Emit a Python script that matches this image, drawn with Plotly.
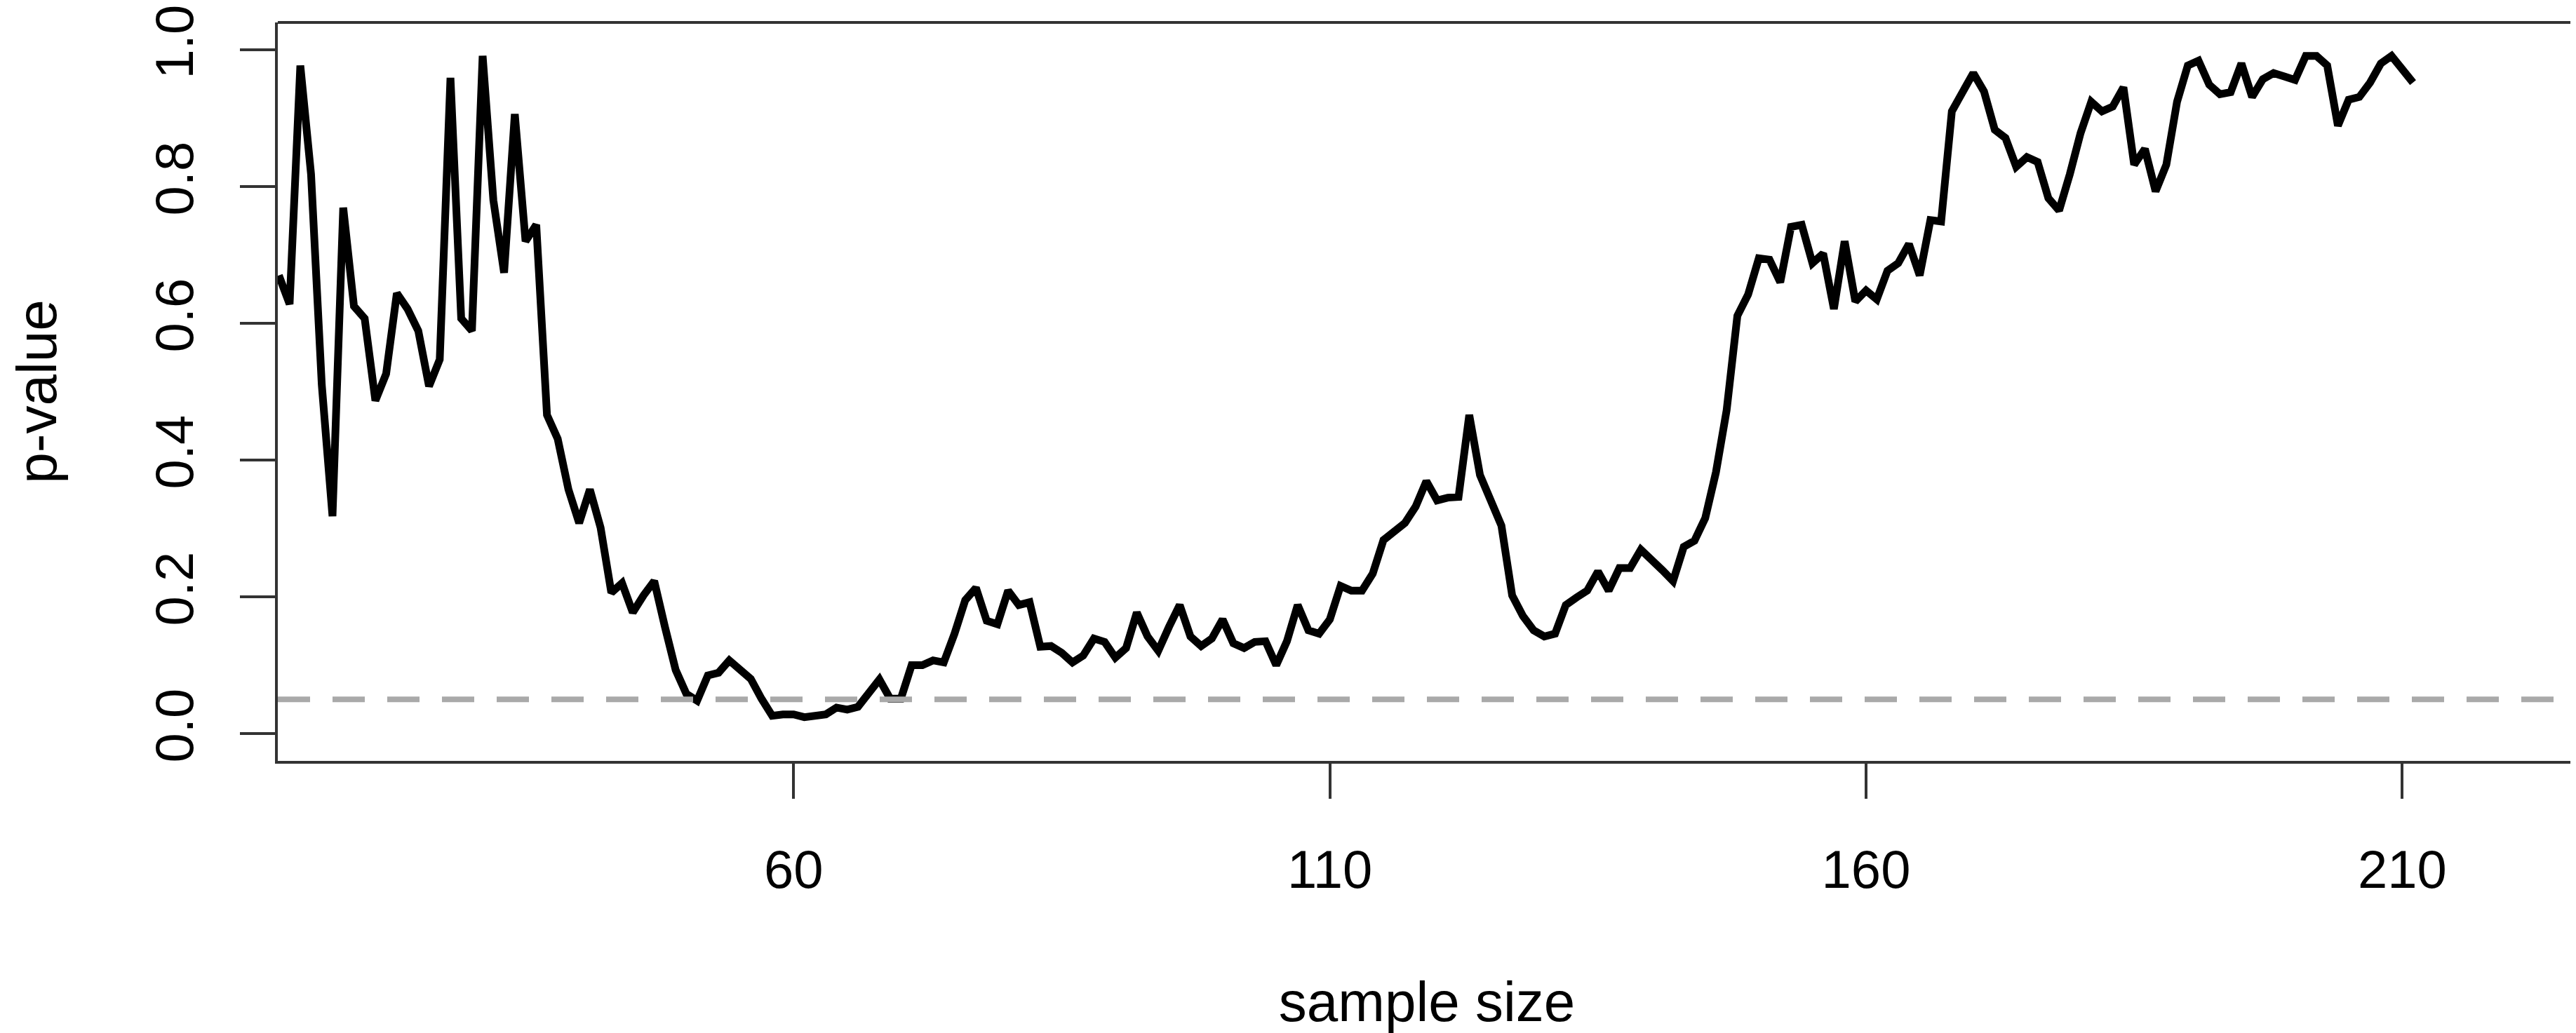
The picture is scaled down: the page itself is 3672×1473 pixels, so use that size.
import plotly.graph_objects as go

sample_size = list(range(12, 212))
p_value = [
    0.670, 0.628, 0.977, 0.818, 0.510, 0.318, 0.769, 0.625, 0.607, 0.487,
    0.526, 0.644, 0.621, 0.589, 0.508, 0.547, 0.959, 0.607, 0.589, 0.991,
    0.780, 0.674, 0.906, 0.720, 0.744, 0.466, 0.431, 0.357, 0.308, 0.357,
    0.301, 0.206, 0.220, 0.177, 0.202, 0.223, 0.156, 0.093, 0.058, 0.048,
    0.085, 0.089, 0.107, 0.093, 0.080, 0.051, 0.026, 0.028, 0.028, 0.024,
    0.026, 0.028, 0.038, 0.035, 0.039, 0.059, 0.079, 0.051, 0.051, 0.100,
    0.100, 0.107, 0.104, 0.146, 0.195, 0.213, 0.165, 0.160, 0.209, 0.188,
    0.192, 0.127, 0.128, 0.118, 0.104, 0.114, 0.139, 0.134, 0.111, 0.125,
    0.177, 0.142, 0.121, 0.156, 0.188, 0.142, 0.128, 0.139, 0.167, 0.132,
    0.125, 0.134, 0.135, 0.100, 0.135, 0.188, 0.151, 0.146, 0.167, 0.216,
    0.209, 0.209, 0.234, 0.283, 0.296, 0.308, 0.332, 0.369, 0.341, 0.345,
    0.346, 0.466, 0.378, 0.339, 0.304, 0.202, 0.172, 0.151, 0.142, 0.146,
    0.188, 0.199, 0.209, 0.237, 0.209, 0.242, 0.242, 0.269, 0.255, 0.239,
    0.223, 0.273, 0.282, 0.315, 0.382, 0.473, 0.611, 0.642, 0.695, 0.693,
    0.660, 0.741, 0.744, 0.688, 0.702, 0.621, 0.720, 0.632, 0.648, 0.635,
    0.677, 0.688, 0.716, 0.670, 0.751, 0.749, 0.910, 0.939, 0.966, 0.939,
    0.883, 0.871, 0.829, 0.843, 0.836, 0.783, 0.765, 0.818, 0.878, 0.924,
    0.910, 0.917, 0.945, 0.832, 0.855, 0.793, 0.832, 0.924, 0.977, 0.984,
    0.949, 0.935, 0.938, 0.980, 0.931, 0.957, 0.966, 0.961, 0.956, 0.991,
    0.991, 0.977, 0.889, 0.927, 0.931, 0.952, 0.980, 0.991, 0.970, 0.952,
]
x_ticks = [60, 110, 160, 210]
y_ticks = [0.0, 0.2, 0.4, 0.6, 0.8, 1.0]
y_tick_labels = ["0.0", "0.2", "0.4", "0.6", "0.8", "1.0"]
threshold = 0.05

FONT = "Liberation Sans, Arial, sans-serif"
AX = "#333333"

fig = go.Figure()
fig.add_trace(go.Scatter(
    x=sample_size, y=p_value, mode="lines",
    line=dict(color="black", width=11), showlegend=False, hoverinfo="skip",
))

fig.add_shape(type="line", xref="paper", yref="y", x0=0, x1=1,
              y0=threshold, y1=threshold, layer="above",
              line=dict(color="#a9a9a9", width=8, dash="46px,32px"))
fig.add_shape(type="line", xref="paper", yref="paper", x0=0, x1=1,
              y0=1, y1=1, line=dict(color=AX, width=4))

# the page body adds an 8px offset; size the figure to fit the window
fig.update_layout(
    width=3664, height=1465,
    margin=dict(l=388, r=0, t=24, b=388),
    paper_bgcolor="white", plot_bgcolor="white",
    font=dict(family=FONT, size=80, color="black"),
    xaxis=dict(
        range=[11.9, 226.2], tickmode="array", tickvals=x_ticks,
        ticks="outside", ticklen=50, tickwidth=4, tickcolor=AX,
        showline=True, linecolor=AX, linewidth=4, mirror=False,
        showgrid=False, zeroline=False, automargin=False,
        ticklabeloverflow="allow",
        tickfont=dict(size=76, family=FONT), ticklabelstandoff=36,
        title=dict(text="sample size", font=dict(size=80, family=FONT), standoff=122),
    ),
    yaxis=dict(
        range=[-0.04, 1.04], tickmode="array", tickvals=y_ticks, ticktext=y_tick_labels,
        ticks="outside", ticklen=50, tickwidth=4, tickcolor=AX, tickangle=-90,
        showline=True, linecolor=AX, linewidth=4, mirror=False,
        showgrid=False, zeroline=False, automargin=False,
        ticklabeloverflow="allow",
        tickfont=dict(size=76, family=FONT), ticklabelstandoff=37,
        title=dict(text="p-value", font=dict(size=80, family=FONT), standoff=112),
    ),
)

fig.write_html("out.html")
